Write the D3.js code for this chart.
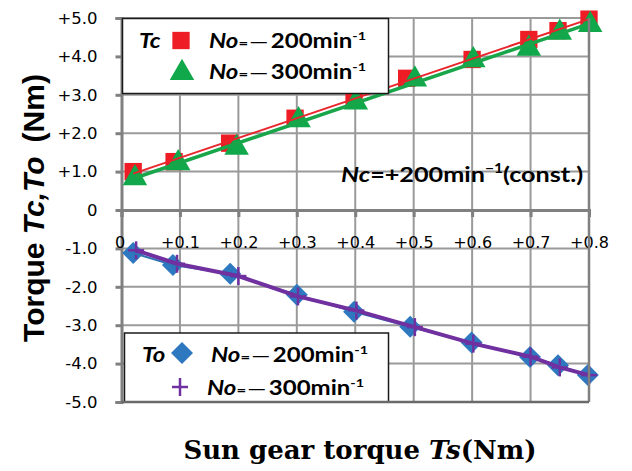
<!DOCTYPE html>
<html><head><meta charset="utf-8">
<script src="https://cdn.jsdelivr.net/npm/d3@7"></script>
<style>body{margin:0;background:#fff}</style>
</head><body>
<svg id="c" width="632" height="471"></svg>
<script>
const xTicks = [0,0.1,0.2,0.3,0.4,0.5,0.6,0.7,0.8];
const xTickLabels = ["0","+0.1","+0.2","+0.3","+0.4","+0.5","+0.6","+0.7","+0.8"];
const yTicks = [5,4,3,2,1,0,-1,-2,-3,-4,-5];
const yTickLabels = ["+5.0","+4.0","+3.0","+2.0","+1.0","0","-1.0","-2.0","-3.0","-4.0","-5.0"];

const tcN200_x = [0.02,0.09,0.185,0.297,0.398,0.488,0.6,0.697,0.747,0.8];
const tcN200_y = [1.0,1.26,1.74,2.39,2.91,3.43,3.92,4.44,4.67,4.97];
const tcN300_x = [0.023,0.097,0.197,0.303,0.401,0.502,0.602,0.697,0.75,0.802];
const tcN300_y = [0.83,1.22,1.62,2.34,2.8,3.4,3.9,4.2,4.62,4.82];
const toN200_x = [0.02,0.088,0.186,0.3,0.398,0.494,0.599,0.699,0.747,0.798];
const toN200_y = [-1.12,-1.43,-1.66,-2.21,-2.65,-3.04,-3.45,-3.83,-4.04,-4.3];
const toN300_x = [0.025,0.095,0.2,0.302,0.402,0.502,0.602,0.7,0.75,0.8];
const toN300_y = [-1.05,-1.4,-1.72,-2.25,-2.62,-3.05,-3.48,-3.82,-4.1,-4.3];

const svg = d3.select("#c");
const x = d3.scaleLinear().domain([0,0.8]).range([121.5,589]);
const y = d3.scaleLinear().domain([-5,5]).range([402,18]);

// grid
const g = svg.append("g");
g.selectAll(".vg").data(xTicks.slice(1)).join("line")
  .attr("x1",d=>x(d)).attr("x2",d=>x(d)).attr("y1",y(5)).attr("y2",y(-5))
  .attr("stroke","#9a9a9a").attr("stroke-width",2);
g.selectAll(".hg").data(yTicks.filter(d=>d!==0)).join("line")
  .attr("x1",x(0)).attr("x2",x(0.8)).attr("y1",d=>y(d)).attr("y2",d=>y(d))
  .attr("stroke","#9a9a9a").attr("stroke-width",2);
// y axis
const yAxis = d3.axisLeft(y).tickValues(yTicks).tickFormat((d,i)=>yTickLabels[i]).tickSize(6).tickPadding(18);
const ya = svg.append("g").attr("transform",`translate(${x(0)},0)`).call(yAxis);
ya.select(".domain").attr("stroke","#808080").attr("stroke-width",3);
ya.selectAll(".tick line").attr("stroke","#808080").attr("stroke-width",3);
ya.selectAll(".tick text").attr("font-family","DejaVu Sans").attr("font-size",16.5).attr("fill","#000");
// x axis at zero
const xAxis = d3.axisBottom(x).tickValues(xTicks).tickFormat((d,i)=>xTickLabels[i]).tickSize(7).tickPadding(20);
const xa = svg.append("g").attr("transform",`translate(0,${y(0)})`).call(xAxis);
xa.select(".domain").attr("stroke","#808080").attr("stroke-width",3);
xa.selectAll(".tick line").attr("stroke","#808080").attr("stroke-width",3);
xa.selectAll(".tick text").attr("font-family","DejaVu Sans").attr("font-size",16).attr("fill","#000");
xa.selectAll(".tick text").filter((d,i)=>i===0).attr("dx",-2);

// fit helper (least-squares trendline from the data)
function fit(xs,ys){const n=xs.length,mx=d3.mean(xs),my=d3.mean(ys);
  let sxy=0,sxx=0;for(let i=0;i<n;i++){sxy+=(xs[i]-mx)*(ys[i]-my);sxx+=(xs[i]-mx)**2;}
  const b=sxy/sxx,a=my-b*mx;const x0=d3.min(xs),x1=d3.max(xs);return [[x0,a+b*x0],[x1,a+b*x1]];}
const line = d3.line().x(d=>x(d[0])).y(d=>y(d[1]));

// markers
const sq = d3.symbol().type(d3.symbolSquare).size(300);
const tri = d3.symbol().type(d3.symbolTriangle).size(260);
const dia = "M0,-11L11,0L0,11L-11,0Z";
svg.append("g").selectAll("path").data(d3.zip(tcN200_x,tcN200_y)).join("path")
  .attr("transform",d=>`translate(${x(d[0])},${y(d[1])})`).attr("d",sq).attr("fill","#ee1c25");
svg.append("g").selectAll("path").data(d3.zip(tcN300_x,tcN300_y)).join("path")
  .attr("transform",d=>`translate(${x(d[0])},${y(d[1])})`).attr("d",tri).attr("fill","#10a84a");
svg.append("g").selectAll("path").data(d3.zip(toN200_x,toN200_y)).join("path")
  .attr("transform",d=>`translate(${x(d[0])},${y(d[1])})`).attr("d",dia).attr("fill","#2e78c0");
function plusMark(sel){sel.append("line").attr("x1",-8).attr("x2",8).attr("y1",0).attr("y2",0);
  sel.append("line").attr("x1",0).attr("x2",0).attr("y1",-9).attr("y2",9);}
svg.append("g").selectAll("g").data(d3.zip(toN300_x,toN300_y)).join("g")
  .attr("transform",d=>`translate(${x(d[0])},${y(d[1])})`).attr("stroke","#7030a0").attr("stroke-width",2.5)
  .each(function(){plusMark(d3.select(this));});

// lines (drawn over the markers)
svg.append("path").attr("d",line(fit(tcN300_x,tcN300_y))).attr("stroke","#19a64a").attr("stroke-width",3.5).attr("fill","none");
svg.append("path").attr("d",line(fit(tcN200_x,tcN200_y))).attr("stroke","#e8262c").attr("stroke-width",2).attr("fill","none");
svg.append("path").attr("d",line(d3.zip(toN200_x,toN200_y))).attr("stroke","#2e75b6").attr("stroke-width",2).attr("fill","none");
svg.append("path").attr("d",line(d3.zip(toN300_x,toN300_y))).attr("stroke","#7030a0").attr("stroke-width",4).attr("fill","none");

// stretched text helper
function sText(gx,gy,size){
  return svg.append("g").attr("transform",`translate(${gx},${gy}) scale(1.2,1)`)
    .append("text").attr("font-family","Lato").attr("font-weight","bold").attr("font-size",size).attr("fill","#000");
}
function legendText(gx,gy,num){
  const t = sText(gx,gy,20);
  t.append("tspan").attr("font-style","italic").text("No");
  t.append("tspan").attr("font-size",14).text("=");
  t.append("tspan").attr("font-weight","normal").attr("dx",1).text("—");
  t.append("tspan").attr("dx",2).text(num+"min");
  t.append("tspan").attr("font-size",12).attr("dy",-8).text("-1");
}
svg.append("rect").attr("x",122.5).attr("y",18.5).attr("width",266).attr("height",75).attr("fill","#fff").attr("stroke","#1a1a1a").attr("stroke-width",1.5);
sText(139,48,20).attr("font-style","italic").text("Tc");
svg.append("path").attr("transform","translate(181,40.5)").attr("d",sq).attr("fill","#ee1c25");
legendText(209,48,"200");
svg.append("path").attr("transform","translate(182,73)").attr("d",tri).attr("fill","#10a84a");
legendText(209,79,"300");

svg.append("rect").attr("x",124.5).attr("y",333).attr("width",264).attr("height",69).attr("fill","#fff").attr("stroke","#1a1a1a").attr("stroke-width",1.5);
sText(142,362,20).attr("font-style","italic").text("To");
svg.append("path").attr("transform","translate(182,353)").attr("d",dia).attr("fill","#2e78c0");
legendText(211,362,"200");
svg.append("g").attr("transform","translate(180,387)").attr("stroke","#7030a0").attr("stroke-width",2.5).call(plusMark);
legendText(207,395,"300");

// annotation
const an = sText(341,182,21);
an.append("tspan").attr("font-style","italic").text("Nc");
an.append("tspan").text("=+200min");
an.append("tspan").attr("font-size",13).attr("dy",-9).text("−1");
an.append("tspan").attr("dy",9).text("(const.)");

// axis titles
const yt = svg.append("text").attr("transform","translate(44,208) rotate(-90)").attr("text-anchor","middle")
  .attr("font-family","Liberation Sans").attr("font-weight","bold").attr("font-size",30).attr("fill","#000");
yt.append("tspan").text("Torque ");
yt.append("tspan").attr("font-style","italic").text("Tc,To");
yt.append("tspan").attr("dx",14).text("(Nm)");
const xt = svg.append("text").attr("x",360).attr("y",459).attr("text-anchor","middle")
  .attr("font-family","DejaVu Serif").attr("font-weight","bold").attr("font-size",26).attr("fill","#000");
xt.append("tspan").text("Sun gear torque ");
xt.append("tspan").attr("font-style","italic").text("Ts");
xt.append("tspan").text("(Nm)");

// borders
svg.append("line").attr("x1",x(0.8)).attr("x2",x(0.8)).attr("y1",y(5)).attr("y2",y(-5)).attr("stroke","#808080").attr("stroke-width",2.5);
svg.append("line").attr("x1",x(0)).attr("x2",x(0.8)).attr("y1",y(-5)).attr("y2",y(-5)).attr("stroke","#6a6a6a").attr("stroke-width",2.5);
</script>
</body></html>
